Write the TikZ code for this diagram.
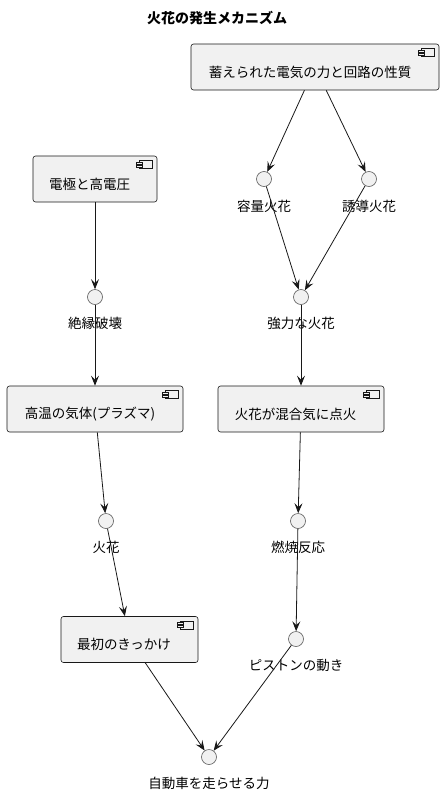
\documentclass[tikz,border=0pt]{standalone}
\usepackage{fontspec}
\setmainfont{Noto Sans CJK JP}
\usetikzlibrary{arrows.meta}
\definecolor{boxfill}{HTML}{F1F1F1}
\definecolor{boxline}{HTML}{181818}
\definecolor{circline}{HTML}{5B5B5B}
\tikzset{
  comp/.style={draw=boxline, fill=boxfill, rounded corners=2.5pt, line width=0.6pt, inner sep=0, minimum height=46pt},
  comptext/.style={font=\fontsize{13.5}{16}\selectfont, inner sep=0, text=black},
  iface/.style={circle, draw=circline, fill=boxfill, minimum size=15pt, inner sep=0, line width=0.6pt},
  ilabel/.style={font=\fontsize{13.5}{16}\selectfont, inner sep=0, text=black},
  titletext/.style={font=\bfseries\fontsize{14}{16}\selectfont, inner sep=0},
  flow/.style={draw=boxline, line width=0.8pt, -{Stealth[length=10pt,width=8pt,inset=4pt]}},
  iconpart/.style={draw=boxline, fill=boxfill, line width=0.5pt}
}
\newcommand\compicon[1]{%
  \draw[shift={(#1.north east)}, iconpart] (-18,5) rectangle (-5,13);
  \draw[shift={(#1.north east)}, iconpart] (-21,6.5) rectangle (-15,8.5);
  \draw[shift={(#1.north east)}, iconpart] (-21,9.5) rectangle (-15,11.5);
}
\begin{document}
\begin{tikzpicture}[x=1pt, y=-1pt]
\useasboundingbox (0,0) rectangle (446,795);
\node[titletext] (title) at (217,18) {火花の発生メカニズム};

% components
\node[comp, minimum width=248pt] (A) at (315,67) {};
\node[comptext] (At) at (310,72) {蓄えられた電気の力と回路の性質};
\compicon{A}
\node[comp, minimum width=124pt] (B) at (95,179) {};
\node[comptext] (Bt) at (89.5,184) {電極と高電圧};
\compicon{B}
\node[comp, minimum width=176pt] (C) at (95,409) {};
\node[comptext] (Ct) at (90,414) {高温の気体(プラズマ)};
\compicon{C}
\node[comp, minimum width=166pt] (D) at (301,409) {};
\node[comptext] (Dt) at (295.5,414) {火花が混合気に点火};
\compicon{D}
\node[comp, minimum width=137pt] (E) at (129.5,639.5) {};
\node[comptext] (Et) at (124,644.5) {最初のきっかけ};
\compicon{E}

% interfaces
\node[iface] (cap) at (264,179) {};
\node[ilabel] (capl) at (264,206) {容量火花};
\node[iface] (ind) at (369,179) {};
\node[ilabel] (indl) at (369,206) {誘導火花};
\node[iface] (brk) at (95,297) {};
\node[ilabel] (brkl) at (95,323) {絶縁破壊};
\node[iface] (str) at (301,297) {};
\node[ilabel] (strl) at (301,323) {強力な火花};
\node[iface] (spk) at (106,521) {};
\node[ilabel] (spkl) at (106,547) {火花};
\node[iface] (cmb) at (298,521) {};
\node[ilabel] (cmbl) at (298,547) {燃焼反応};
\node[iface] (pst) at (296,639) {};
\node[ilabel] (pstl) at (296,665) {ピストンの動き};
\node[iface] (car) at (209,757) {};
\node[ilabel] (carl) at (209,783) {自動車を走らせる力};

% connectors
\draw[flow] (A) -- (cap);
\draw[flow] (A) -- (ind);
\draw[flow] (cap) -- (str);
\draw[flow] (ind) -- (str);
\draw[flow] (B) -- (brk);
\draw[flow] (brk) -- (C);
\draw[flow] (str) -- (D);
\draw[flow] (C) -- (spk);
\draw[flow] (spk) -- (E);
\draw[flow] (D) -- (cmb);
\draw[flow] (cmb) -- (pst);
\draw[flow] (E) -- (car);
\draw[flow] (pst) -- (car);
\end{tikzpicture}
\end{document}
